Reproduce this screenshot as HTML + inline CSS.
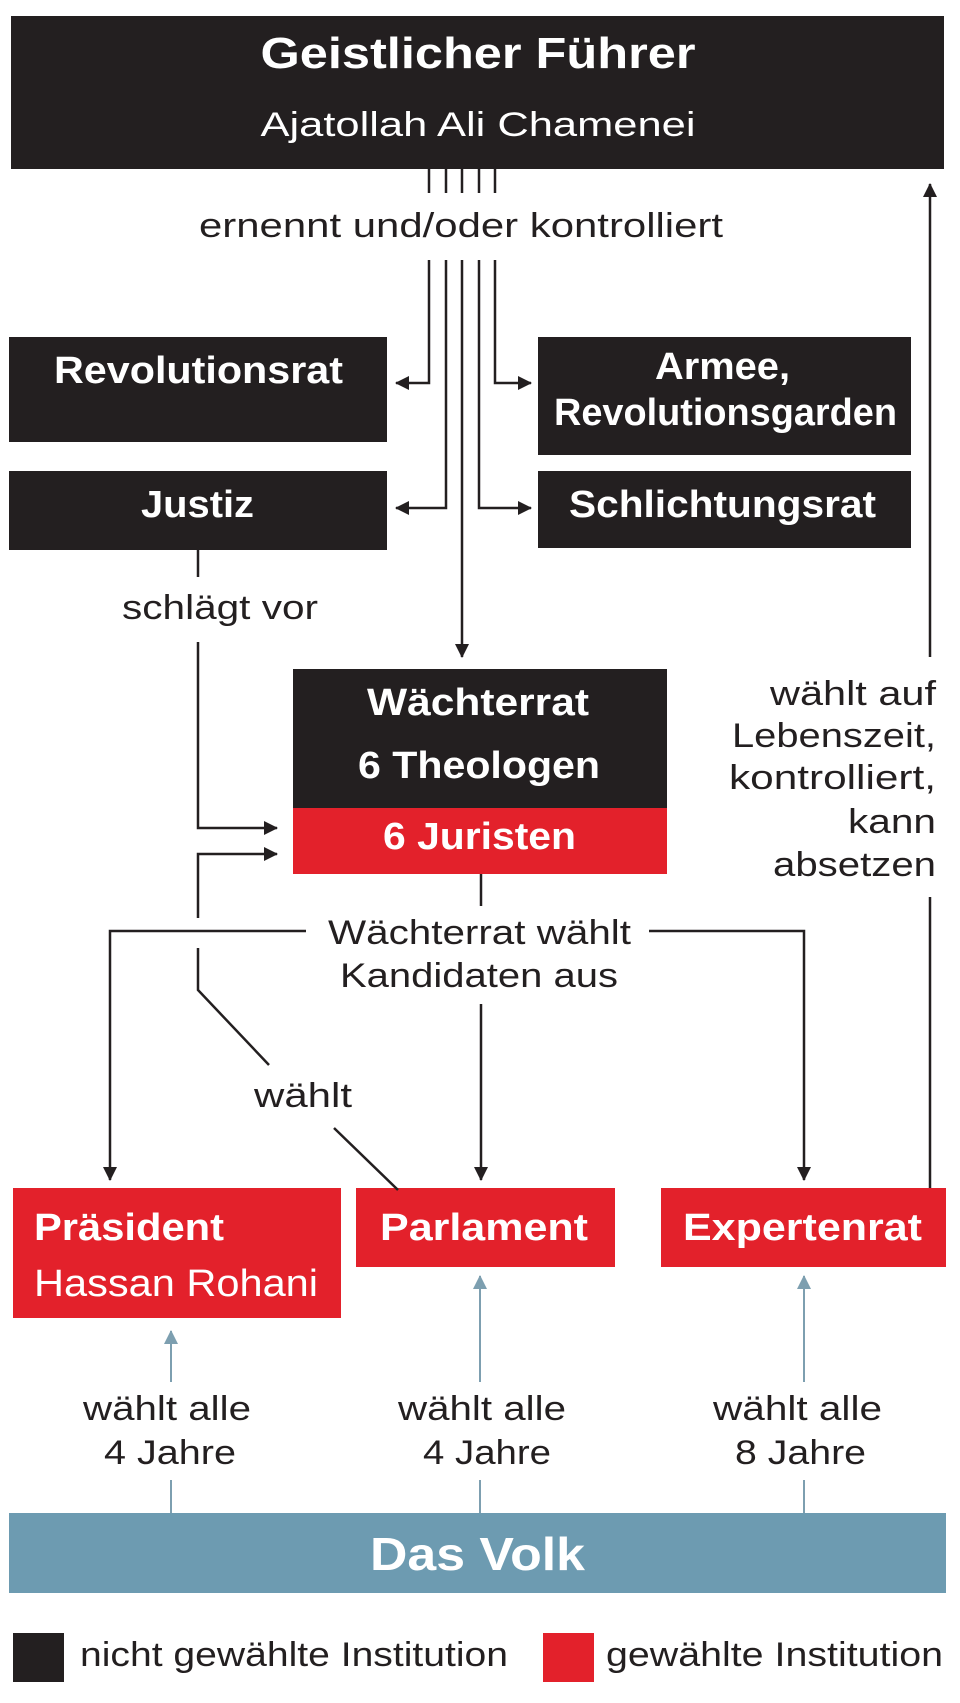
<!DOCTYPE html>
<html><head><meta charset="utf-8"><style>
html,body{margin:0;padding:0;background:#fff;}
svg{display:block;}
text{font-family:"Liberation Sans",sans-serif;}
.b{font-weight:bold;fill:#fff;}
.w{fill:#fff;}
.d{fill:#231f20;}
</style></head><body>
<svg width="960" height="1703" viewBox="0 0 960 1703" xmlns="http://www.w3.org/2000/svg">
<defs>
<marker id="ahb" markerWidth="14" markerHeight="14" refX="13" refY="7" orient="auto" markerUnits="userSpaceOnUse">
<path d="M0,0 L14,7 L0,14 z" fill="#231f20"/></marker>
<marker id="ahl" markerWidth="14" markerHeight="14" refX="13" refY="7" orient="auto" markerUnits="userSpaceOnUse">
<path d="M0,0 L14,7 L0,14 z" fill="#7d9fb0"/></marker>
</defs>

<rect x="11" y="16" width="933" height="153" fill="#231f20"/>
<text class="b" x="478" y="68" font-size="44" text-anchor="middle" textLength="435" lengthAdjust="spacingAndGlyphs">Geistlicher Führer</text>
<text class="w" x="478" y="136" font-size="34" text-anchor="middle" textLength="435" lengthAdjust="spacingAndGlyphs">Ajatollah Ali Chamenei</text>

<rect x="9" y="337" width="378" height="105" fill="#231f20"/>
<text class="b" x="54" y="383" font-size="38" textLength="289" lengthAdjust="spacingAndGlyphs">Revolutionsrat</text>
<rect x="538" y="337" width="373" height="118" fill="#231f20"/>
<text class="b" x="655" y="379" font-size="38" textLength="135" lengthAdjust="spacingAndGlyphs">Armee,</text>
<text class="b" x="554" y="425" font-size="38" textLength="343" lengthAdjust="spacingAndGlyphs">Revolutionsgarden</text>
<rect x="9" y="471" width="378" height="79" fill="#231f20"/>
<text class="b" x="141" y="517" font-size="38" textLength="113" lengthAdjust="spacingAndGlyphs">Justiz</text>
<rect x="538" y="471" width="373" height="77" fill="#231f20"/>
<text class="b" x="569" y="517" font-size="38" textLength="307" lengthAdjust="spacingAndGlyphs">Schlichtungsrat</text>

<rect x="293" y="669" width="374" height="139" fill="#231f20"/>
<rect x="293" y="808" width="374" height="66" fill="#e3212b"/>
<text class="b" x="367" y="715" font-size="38" textLength="222" lengthAdjust="spacingAndGlyphs">Wächterrat</text>
<text class="b" x="358" y="778" font-size="38" textLength="242" lengthAdjust="spacingAndGlyphs">6 Theologen</text>
<text class="b" x="383" y="849" font-size="38" textLength="193" lengthAdjust="spacingAndGlyphs">6 Juristen</text>

<rect x="13" y="1188" width="328" height="130" fill="#e3212b"/>
<text class="b" x="34" y="1240" font-size="38" textLength="190" lengthAdjust="spacingAndGlyphs">Präsident</text>
<text class="w" x="34" y="1296" font-size="38" textLength="284" lengthAdjust="spacingAndGlyphs">Hassan Rohani</text>
<rect x="356" y="1188" width="259" height="79" fill="#e3212b"/>
<text class="b" x="380" y="1240" font-size="38" textLength="208" lengthAdjust="spacingAndGlyphs">Parlament</text>
<rect x="661" y="1188" width="285" height="79" fill="#e3212b"/>
<text class="b" x="683" y="1240" font-size="38" textLength="239" lengthAdjust="spacingAndGlyphs">Expertenrat</text>

<rect x="9" y="1513" width="937" height="80" fill="#6d9bb1"/>
<text class="b" x="370" y="1570" font-size="46" textLength="215" lengthAdjust="spacingAndGlyphs">Das Volk</text>

<rect x="13" y="1633" width="51" height="49" fill="#231f20"/>
<text class="d" x="80" y="1666" font-size="34" textLength="428" lengthAdjust="spacingAndGlyphs">nicht gewählte Institution</text>
<rect x="543" y="1633" width="51" height="49" fill="#e3212b"/>
<text class="d" x="606" y="1666" font-size="34" textLength="337" lengthAdjust="spacingAndGlyphs">gewählte Institution</text>

<g stroke="#231f20" stroke-width="2.5" fill="none">
<line x1="429" y1="169" x2="429" y2="193"/>
<line x1="446" y1="169" x2="446" y2="193"/>
<line x1="462" y1="169" x2="462" y2="193"/>
<line x1="479" y1="169" x2="479" y2="193"/>
<line x1="495" y1="169" x2="495" y2="193"/>
<polyline points="429,260 429,383 396,383" marker-end="url(#ahb)"/>
<polyline points="446,260 446,508 396,508" marker-end="url(#ahb)"/>
<polyline points="462,260 462,657" marker-end="url(#ahb)"/>
<polyline points="479,260 479,508 531,508" marker-end="url(#ahb)"/>
<polyline points="495,260 495,383 531,383" marker-end="url(#ahb)"/>

<line x1="198" y1="550" x2="198" y2="577"/>
<polyline points="198,642 198,828 277,828" marker-end="url(#ahb)"/>
<polyline points="198,918 198,854 277,854" marker-end="url(#ahb)"/>
<polyline points="198,948 198,990 269,1065"/>
<line x1="334" y1="1128" x2="398" y2="1190"/>

<line x1="481" y1="874" x2="481" y2="906"/>
<polyline points="481,1004 481,1180" marker-end="url(#ahb)"/>
<polyline points="306,931 110,931 110,1180" marker-end="url(#ahb)"/>
<polyline points="649,931 804,931 804,1180" marker-end="url(#ahb)"/>

<line x1="930" y1="1188" x2="930" y2="897"/>
<line x1="930" y1="657" x2="930" y2="184" marker-end="url(#ahb)"/>
</g>

<g stroke="#7d9fb0" stroke-width="2" fill="none">
<line x1="171" y1="1382" x2="171" y2="1331" marker-end="url(#ahl)"/>
<line x1="171" y1="1480" x2="171" y2="1513"/>
<line x1="480" y1="1382" x2="480" y2="1276" marker-end="url(#ahl)"/>
<line x1="480" y1="1480" x2="480" y2="1513"/>
<line x1="804" y1="1382" x2="804" y2="1276" marker-end="url(#ahl)"/>
<line x1="804" y1="1480" x2="804" y2="1513"/>
</g>

<g class="d" font-size="34">
<text x="199" y="237" textLength="524" lengthAdjust="spacingAndGlyphs">ernennt und/oder kontrolliert</text>
<text x="122" y="619" textLength="196" lengthAdjust="spacingAndGlyphs">schlägt vor</text>
<text x="770" y="705" textLength="166" lengthAdjust="spacingAndGlyphs">wählt auf</text>
<text x="732" y="747" textLength="204" lengthAdjust="spacingAndGlyphs">Lebenszeit,</text>
<text x="729" y="789" textLength="207" lengthAdjust="spacingAndGlyphs">kontrolliert,</text>
<text x="848" y="833" textLength="88" lengthAdjust="spacingAndGlyphs">kann</text>
<text x="773" y="876" textLength="163" lengthAdjust="spacingAndGlyphs">absetzen</text>
<text x="328" y="944" textLength="303" lengthAdjust="spacingAndGlyphs">Wächterrat wählt</text>
<text x="340" y="987" textLength="278" lengthAdjust="spacingAndGlyphs">Kandidaten aus</text>
<text x="254" y="1107" textLength="98" lengthAdjust="spacingAndGlyphs">wählt</text>
<text x="83" y="1420" textLength="168" lengthAdjust="spacingAndGlyphs">wählt alle</text>
<text x="104" y="1464" textLength="132" lengthAdjust="spacingAndGlyphs">4 Jahre</text>
<text x="398" y="1420" textLength="168" lengthAdjust="spacingAndGlyphs">wählt alle</text>
<text x="423" y="1464" textLength="128" lengthAdjust="spacingAndGlyphs">4 Jahre</text>
<text x="713" y="1420" textLength="169" lengthAdjust="spacingAndGlyphs">wählt alle</text>
<text x="735" y="1464" textLength="131" lengthAdjust="spacingAndGlyphs">8 Jahre</text>
</g>
</svg>
</body></html>
